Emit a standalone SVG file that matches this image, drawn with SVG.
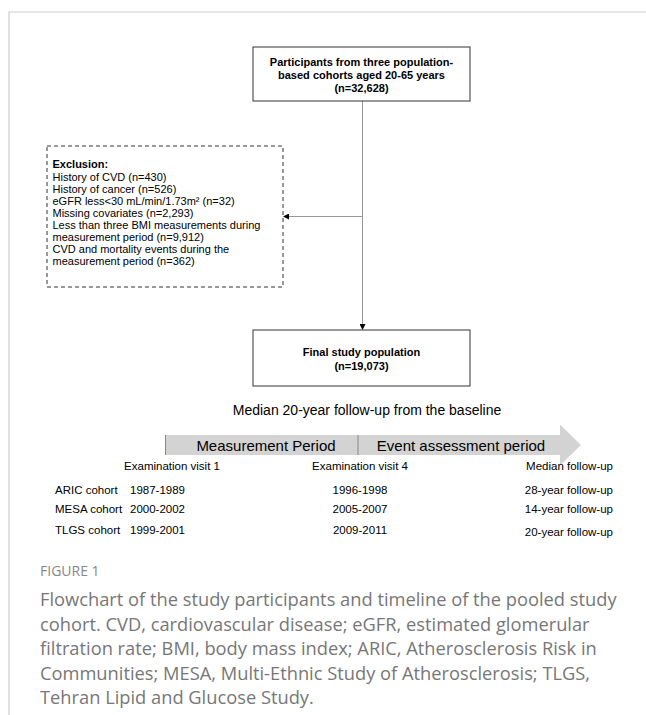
<svg xmlns="http://www.w3.org/2000/svg" width="646" height="715" viewBox="0 0 646 715">
<defs>
<marker id="ah" markerWidth="6" markerHeight="6" refX="5" refY="3" orient="auto" markerUnits="userSpaceOnUse">
<path d="M0,0 L6,3 L0,6 Z" fill="#000"/>
</marker>
<style>
.box{fill:#fff;stroke:#333;stroke-width:1}
.dash{fill:#fff;stroke:#333;stroke-width:1;stroke-dasharray:4,3}
.b{font-family:"Liberation Sans",Arial,sans-serif;font-weight:bold;font-size:11px;fill:#000}
.t{font-family:"Liberation Sans",Arial,sans-serif;font-size:11px;fill:#000}
.tb{font-family:"Liberation Sans",Arial,sans-serif;font-size:11.5px;fill:#000}
.med{font-family:"Liberation Sans",Arial,sans-serif;font-size:14px;fill:#000}
.big{font-family:"Liberation Sans",Arial,sans-serif;font-size:15px;fill:#000}
.cap{font-family:"Open Sans","Noto Sans",sans-serif;font-size:18.3px;fill:#777}
.fig{font-family:"Open Sans","Noto Sans",sans-serif;font-size:14px;fill:#888}
.conn{stroke:#999;stroke-width:1;fill:none}
</style>
</defs>
<rect width="646" height="715" fill="#fff"/>
<g id="frame"><path d="M9,715 V12 H646" fill="none" stroke="#ccc" stroke-width="1.2"/></g>
<g id="connectors">
<path class="conn" d="M362.5,101 V329" marker-end="url(#ah)"/>
<path class="conn" d="M362.5,216.5 H284" marker-end="url(#ah)"/>
</g>
<g id="participants">
<rect class="box" x="253" y="47" width="217" height="54"/>
<text class="b" text-anchor="middle" x="361.5" y="66">Participants from three population-</text>
<text class="b" text-anchor="middle" x="361.5" y="79">based cohorts aged 20-65 years</text>
<text class="b" text-anchor="middle" x="361.5" y="92">(n=32,628)</text>
</g>
<g id="exclusion">
<rect class="dash" x="47" y="146" width="236" height="141"/>
<text class="b" x="52.5" y="168">Exclusion:</text>
<text class="t" x="52.5" y="180.5">History of CVD (n=430)</text>
<text class="t" x="52.5" y="192.5">History of cancer (n=526)</text>
<text class="t" x="52.5" y="204.5">eGFR less&lt;30 mL/min/1.73m² (n=32)</text>
<text class="t" x="52.5" y="216.5">Missing covariates (n=2,293)</text>
<text class="t" x="52.5" y="228.5">Less than three BMI measurements during</text>
<text class="t" x="52.5" y="240.5">measurement period (n=9,912)</text>
<text class="t" x="52.5" y="252.5">CVD and mortality events during the</text>
<text class="t" x="52.5" y="264.5">measurement period (n=362)</text>
</g>
<g id="final">
<rect class="box" x="253" y="330" width="217" height="56"/>
<text class="b" text-anchor="middle" x="361.5" y="356">Final study population</text>
<text class="b" text-anchor="middle" x="361.5" y="370">(n=19,073)</text>
</g>
<g id="timeline">
<text class="med" text-anchor="middle" x="367" y="415">Median 20-year follow-up from the baseline</text>
<path d="M165,435 H560 V424.5 L581,445 L560,465.5 V455 H165 Z" fill="#d3d3d3"/>
<line x1="165.5" y1="435" x2="165.5" y2="455" stroke="#888" stroke-width="1"/>
<line x1="358" y1="435" x2="358" y2="455" stroke="#888" stroke-width="1"/>
<text class="big" text-anchor="middle" x="266" y="450.5">Measurement Period</text>
<text class="big" text-anchor="middle" x="461" y="450.5">Event assessment period</text>
<text class="tb" text-anchor="middle" x="172" y="469.5">Examination visit 1</text>
<text class="tb" text-anchor="middle" x="360" y="469.5">Examination visit 4</text>
<text class="tb" text-anchor="end" x="613" y="469.5">Median follow-up</text>
<text class="tb" x="55" y="493.5">ARIC cohort</text>
<text class="tb" x="130" y="493.5">1987-1989</text>
<text class="tb" text-anchor="middle" x="360" y="493.5">1996-1998</text>
<text class="tb" text-anchor="end" x="613" y="493.5">28-year follow-up</text>
<text class="tb" x="55" y="512.5">MESA cohort</text>
<text class="tb" x="130" y="512.5">2000-2002</text>
<text class="tb" text-anchor="middle" x="360" y="512.5">2005-2007</text>
<text class="tb" text-anchor="end" x="613" y="512.5">14-year follow-up</text>
<text class="tb" x="55" y="533.5">TLGS cohort</text>
<text class="tb" x="130" y="533.5">1999-2001</text>
<text class="tb" text-anchor="middle" x="360" y="533.5">2009-2011</text>
<text class="tb" text-anchor="end" x="613" y="535.5">20-year follow-up</text>
</g>
<g id="caption">
<text class="fig" x="40" y="576">FIGURE 1</text>
<text class="cap" x="40" y="606">Flowchart of the study participants and timeline of the pooled study</text>
<text class="cap" x="40" y="630.5">cohort. CVD, cardiovascular disease; eGFR, estimated glomerular</text>
<text class="cap" x="40" y="655">filtration rate; BMI, body mass index; ARIC, Atherosclerosis Risk in</text>
<text class="cap" x="40" y="679.5">Communities; MESA, Multi-Ethnic Study of Atherosclerosis; TLGS,</text>
<text class="cap" x="40" y="704">Tehran Lipid and Glucose Study.</text>
</g>
</svg>
